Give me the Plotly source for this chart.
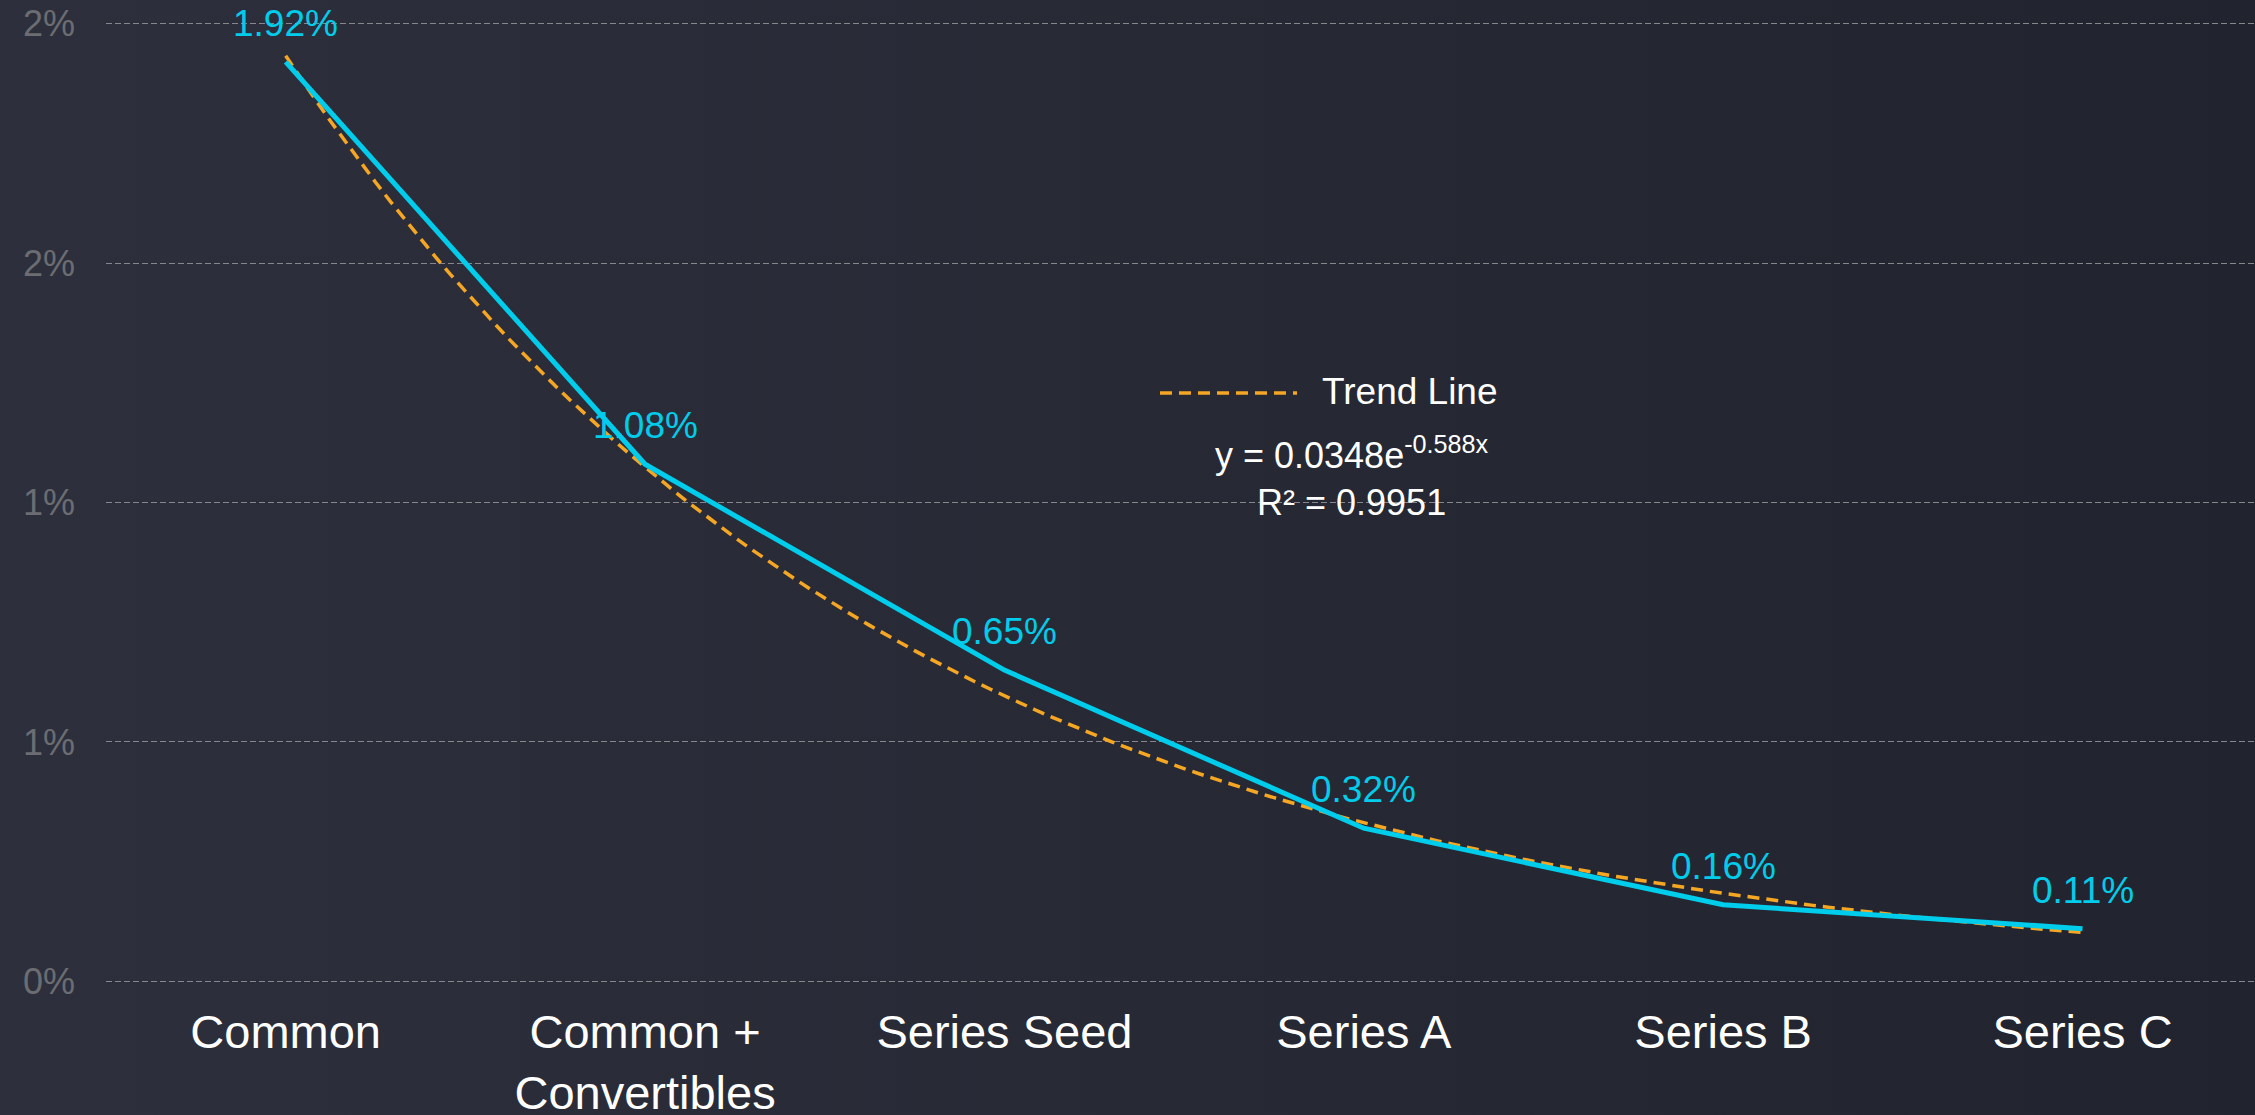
import base64
import numpy as np
import plotly.graph_objects as go

# Round categories and the measured rate for each
categories = ["Common", "Common +<br>Convertibles", "Series Seed", "Series A", "Series B", "Series C"]
rates = [0.0192, 0.0108, 0.0065, 0.0032, 0.0016, 0.0011]
rate_labels = ["1.92%", "1.08%", "0.65%", "0.32%", "0.16%", "0.11%"]

# Exponential trend fitted to the rates (x counted from 1)
trend_a = 0.0348
trend_b = -0.588
trend_r2 = 0.9951

# Y axis ticks (labels rounded to whole percent)
y_tick_vals = [0.0, 0.005, 0.010, 0.015, 0.020]
y_tick_text = ["0%", "1%", "1%", "2%", "2%"]

W, H = 2255, 1115
L, R, T, B = 106, 0, 14, 124
PW, PH = W - L - R, H - T - B

CYAN = "#00CDEB"
ORANGE = "#F5A623"
FONT = "Liberation Sans, Arial, sans-serif"


def px_x(px):
    return (px - L) / PW


def px_y(py):
    return 1 - (py - T) / PH


x_idx = list(range(len(categories)))
trend_x = np.linspace(0, len(categories) - 1, 121)
trend_y = trend_a * np.exp(trend_b * (trend_x + 1))

fig = go.Figure()
fig.add_trace(go.Scatter(
    x=trend_x, y=trend_y, mode="lines", name="Trend Line",
    line=dict(color=ORANGE, width=3.5, dash="12px,7px"),
    showlegend=False, hoverinfo="skip",
))
fig.add_trace(go.Scatter(
    x=x_idx, y=rates, mode="lines", name="Rate",
    line=dict(color=CYAN, width=5), showlegend=False,
))

for i, (v, t) in enumerate(zip(rates, rate_labels)):
    fig.add_annotation(
        x=i, y=v, text=t, showarrow=False, xanchor="center", yanchor="bottom",
        yshift=16, font=dict(family=FONT, size=37, color=CYAN),
    )

# Legend swatch and label for the trend line
fig.add_shape(
    type="line", xref="paper", yref="paper",
    x0=px_x(1160), x1=px_x(1297), y0=px_y(393), y1=px_y(393),
    line=dict(color=ORANGE, width=3.5, dash="12px,7px"),
)
fig.add_annotation(
    xref="paper", yref="paper", x=px_x(1320), y=px_y(391),
    text="Trend Line", showarrow=False, xanchor="left", yanchor="middle",
    font=dict(family=FONT, size=37, color="#FFFFFF"),
)
fig.add_annotation(
    xref="paper", yref="paper", x=px_x(1352), y=px_y(476),
    text=f"y = {trend_a}e<sup>{trend_b}x</sup><br>R² = {trend_r2}",
    showarrow=False, xanchor="center", yanchor="middle", align="center",
    font=dict(family=FONT, size=36, color="#FFFFFF"),
)

# Horizontal background gradient covering the whole canvas
svg = (
    f'<svg xmlns="http://www.w3.org/2000/svg" width="{W}" height="{H}">'
    '<defs><linearGradient id="g" x1="0" y1="0" x2="1" y2="0">'
    '<stop offset="0" stop-color="#2D303C"/>'
    '<stop offset="0.5" stop-color="#272A35"/>'
    '<stop offset="1" stop-color="#21242E"/>'
    '</linearGradient></defs>'
    f'<rect width="{W}" height="{H}" fill="url(#g)"/></svg>'
)
svg_uri = "data:image/svg+xml;base64," + base64.b64encode(svg.encode()).decode()
fig.add_layout_image(
    source=svg_uri, xref="paper", yref="paper",
    x=px_x(0), y=px_y(0), sizex=W / PW, sizey=H / PH,
    xanchor="left", yanchor="top", sizing="stretch", layer="below",
)

fig.update_layout(
    width=W, height=H,
    margin=dict(l=L, r=R, t=T, b=B, pad=0, autoexpand=False),
    paper_bgcolor="#272A35", plot_bgcolor="rgba(0,0,0,0)",
    font=dict(family=FONT),
    xaxis=dict(
        range=[-0.5, 5.48], tickmode="array", tickvals=x_idx, ticktext=categories,
        showgrid=False, zeroline=False, showline=False, ticks="", automargin=False,
        tickfont=dict(family=FONT, size=47, color="#FFFFFF"),
        ticklabelstandoff=9,
    ),
    yaxis=dict(
        range=[-0.0002, 0.0202], tickmode="array", tickvals=y_tick_vals, ticktext=y_tick_text,
        showgrid=True, gridcolor="#85878D", gridwidth=1, griddash="6px,3px",
        zeroline=False, showline=False, ticks="", automargin=False,
        tickfont=dict(family=FONT, size=36, color="#6B6D72"),
        ticklabelstandoff=30,
    ),
)

fig.write_html("out.html")
